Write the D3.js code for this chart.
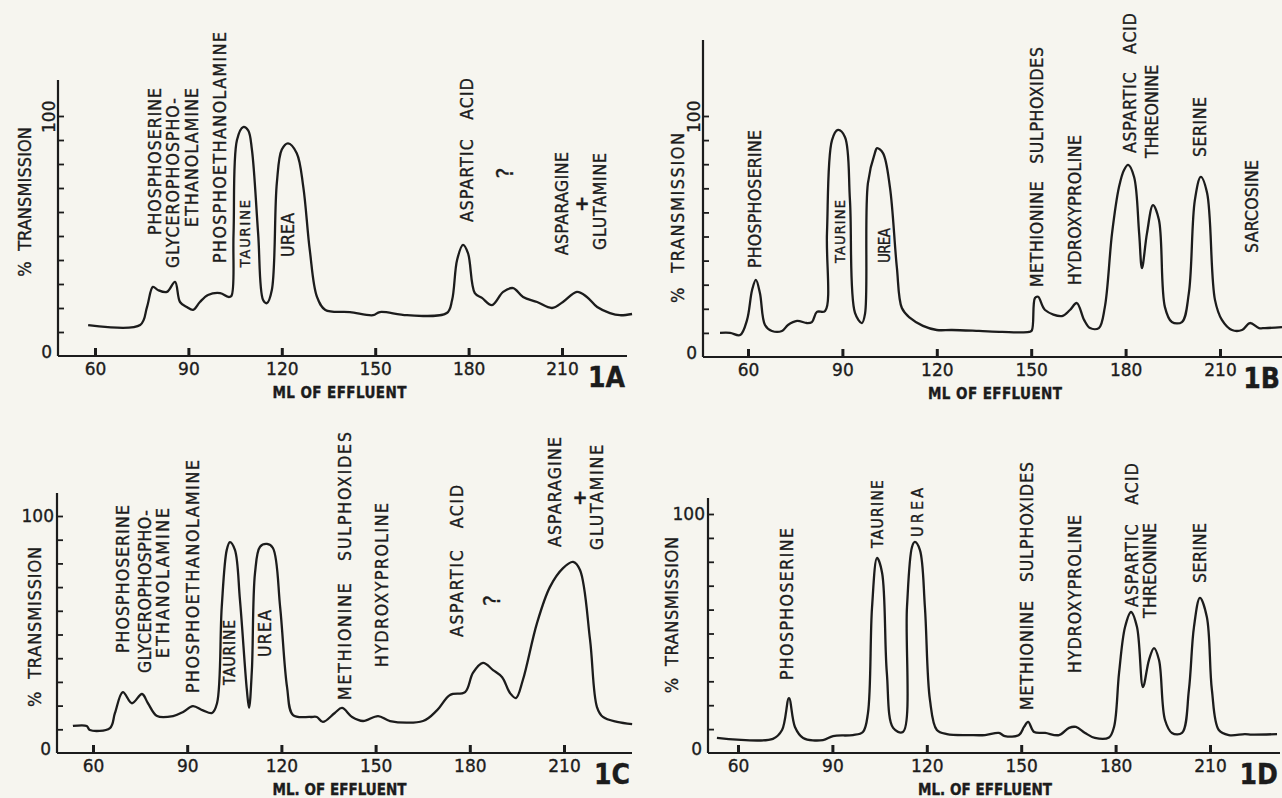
<!DOCTYPE html>
<html lang="en">
<head>
<meta charset="UTF-8">
<title>Chromatograms 1A-1D</title>
<script src="https://cdn.jsdelivr.net/npm/d3@7/dist/d3.min.js"></script>
<style>
  * { margin: 0; padding: 0; }
  body { background: #f6f5ef; }
  svg { display: block; }
  text { font-family: 'DejaVu Sans Condensed', 'DejaVu Sans', sans-serif; fill: #1c1c1c; stroke: #1c1c1c; stroke-width: 0.35px; }
  .num { font-family: 'DejaVu Sans', sans-serif; }
</style>
</head>
<body>
<svg width="1282" height="798"></svg>
<script>
// ---- data: ml of effluent vs % transmission ----
const xTicks = [60, 90, 120, 150, 180, 210];
const yTicks = [0, 10, 20, 30, 40, 50, 60, 70, 80, 90, 100];

const mlA = [57.8, 74.5, 76.7, 78.6, 80.2, 83.1, 85.7, 87.3, 89.5, 91.5, 93.7, 96.3, 100.2, 102.8, 103.8, 104.5, 105.6, 107.6, 109.2, 110.4, 112.4, 114.0, 115.2, 116.8, 118.4, 120.0, 122.0, 124.8, 126.9, 129.0, 131.3, 134.0, 141.9, 149.3, 151.5, 160.2, 173.0, 174.7, 176.3, 178.2, 179.8, 182.0, 184.3, 187.5, 191.1, 194.3, 197.5, 202.0, 206.8, 210.3, 214.8, 218.0, 221.3, 225.4, 228.6, 232.5];
const pctA = [12.9, 12.9, 20.4, 28.8, 27.5, 26.7, 30.9, 22.5, 20.4, 19.2, 22.5, 25.4, 26.2, 24.6, 25, 51, 90, 95.4, 94, 86, 51, 23.3, 22, 27.5, 72, 86, 88.6, 84.5, 70.5, 44, 24.6, 19.2, 18.3, 17, 18.3, 17, 17.9, 23.3, 40, 46.3, 42.9, 26.2, 24.2, 21.2, 26.7, 28.3, 24.6, 22.5, 20, 22.5, 26.7, 24.6, 20.4, 17.9, 17, 17.5];

const mlB = [51.1, 54.3, 57.5, 59.7, 61.3, 62.5, 63.8, 65.4, 67.6, 70.8, 72.7, 75.6, 78.7, 80.3, 81.9, 84.5, 85.1, 86.7, 88.6, 90.8, 92.4, 94.0, 96.2, 97.2, 98.1, 100.4, 101.0, 102.9, 105.1, 107.3, 108.9, 111.5, 115.6, 120.0, 124.8, 133.4, 140.7, 149.3, 150.2, 151.2, 152.2, 154.4, 159.8, 162.3, 164.5, 166.8, 168.7, 171.5, 173.4, 175.7, 177.9, 179.5, 180.8, 182.7, 184.3, 185.2, 186.8, 188.7, 190.6, 192.5, 194.7, 197.9, 200.1, 202.0, 203.9, 205.9, 208.4, 210.6, 213.8, 217.0, 219.5, 222.4, 224.3, 229.7];
const pctB = [10, 10, 9.1, 15.4, 27.8, 32, 26.5, 13.3, 10.8, 10.8, 13.3, 15, 14.1, 14.5, 18.7, 19.1, 51.4, 90, 94.2, 91.3, 65, 18.3, 14.1, 18, 72, 85, 86.7, 84.6, 70.5, 37.3, 20.3, 16.2, 12.9, 11.2, 11.2, 10.8, 10.4, 10.4, 11, 24.5, 25, 19.5, 17, 19.5, 22.4, 15.4, 12, 12, 20.7, 51.4, 70.5, 77.6, 79.7, 74.7, 51.4, 36.9, 51.4, 63, 56.8, 20.7, 14.5, 14.5, 26.5, 65, 74.7, 68, 23.7, 15.4, 11.2, 11.2, 14.1, 12, 12, 12.4];

const mlC = [53.6, 58, 59, 65.4, 67, 69.5, 72.4, 75.6, 77.5, 80.4, 85.5, 88.7, 91.8, 95, 97.9, 99.5, 101, 102.6, 103.6, 105.2, 106.8, 109, 109.7, 110.6, 111.6, 113.2, 115.4, 117.3, 119.6, 121.8, 123.7, 129.1, 131.3, 133.2, 137, 139.3, 142.5, 146, 150.8, 154.6, 165.1, 169.6, 173.7, 178.5, 181, 184.2, 187.4, 190.3, 192.8, 194.7, 196.9, 201.4, 205.5, 209.7, 212.9, 215.1, 218.3, 220.5, 222.4, 226.9, 231.7];
const pctC = [11.4, 11.4, 9.7, 10.5, 16.9, 25.7, 21, 24.9, 21, 15.6, 15.6, 17.3, 19.8, 18, 16.9, 21, 61.6, 85.7, 89, 85.7, 64.6, 26.6, 19, 35, 76, 87, 88.2, 86.5, 61.6, 27.8, 16, 15.2, 15.2, 13.1, 16.9, 19, 15.2, 13.5, 15.6, 13.5, 13.5, 18.1, 24.5, 25.7, 33.8, 38, 35, 32, 25.3, 23.2, 30.8, 54.8, 70, 78, 80.6, 77.2, 47.7, 19.4, 15.2, 13.1, 12.2];

const mlD = [53.3, 71.1, 74, 76.2, 78.1, 80.7, 87, 90.2, 96.5, 99.7, 101.3, 102.6, 104.2, 105.8, 107.3, 109.3, 112.4, 113.7, 115.3, 116.2, 117.8, 119.4, 121, 123.2, 126.4, 133.7, 138.5, 142.9, 144.8, 149.3, 150.9, 152.2, 154.1, 157.6, 162, 165.2, 167.4, 170.3, 173.4, 177.9, 179.5, 181.1, 183, 184.9, 186.8, 188.7, 190.6, 192.2, 193.8, 195.7, 197.9, 201.1, 203.3, 204.9, 206.8, 209, 210.6, 212.8, 216, 221.1, 223.3, 231.3];
const pctD = [6.3, 5.9, 9.6, 23, 10.9, 6.3, 5.4, 7.1, 7.5, 8.8, 16.7, 61, 81.6, 75.3, 33.5, 10.5, 8.8, 61, 86.2, 88.3, 85, 61, 22.2, 9.6, 7.9, 7.5, 7.5, 8.4, 7.1, 7.5, 10.9, 13, 8.8, 8.4, 7.5, 10.5, 10.9, 8.4, 6.3, 6.5, 10.9, 33.5, 52.7, 59, 52.7, 27.6, 38.9, 43.9, 38.9, 13.8, 8.4, 8.4, 26.4, 52.7, 64.9, 56.9, 26.4, 9.6, 7.5, 7.9, 7.7, 7.9];

// peak names: column at ml, text running from pct lo up to pct hi
const SP = '\u00a0\u00a0\u00a0';
const peaksA = [
  { t: 'PHOSPHOSERINE', ml: 79.3, lo: 50.4, hi: 111.7 },
  { t: 'GLYCEROPHOSPHO-', ml: 85.1, lo: 36.7, hi: 107.5 },
  { t: 'ETHANOLAMINE', ml: 91.2, lo: 53.8, hi: 111.7 },
  { t: 'PHOSPHOETHANOLAMINE', ml: 100.2, lo: 38.8, hi: 135 },
  { t: 'TAURINE', ml: 108.2, lo: 37, hi: 65, fs: 14.5 },
  { t: 'UREA', ml: 122, lo: 41.3, hi: 59.6 },
  { t: 'ASPARTIC' + SP + 'ACID', ml: 179.5, lo: 55.8, hi: 115.8 },
  { t: '?', ml: 191.7, lo: 74, hi: 84, fs: 23 },
  { t: 'ASPARAGINE', ml: 210, lo: 42, hi: 85 },
  { t: '+', ml: 216.4, lo: 61, hi: 67, flat: true },
  { t: 'GLUTAMINE', ml: 222.2, lo: 44.2, hi: 84.6 }
];
const peaksB = [
  { t: 'PHOSPHOSERINE', ml: 62.2, lo: 36.9, hi: 94.2 },
  { t: 'TAURINE', ml: 89.2, lo: 39, hi: 65.1, fs: 14.5 },
  { t: 'UREA', ml: 103.5, lo: 39, hi: 53.5, fs: 15 },
  { t: 'METHIONINE' + SP + 'SULPHOXIDES', ml: 151.8, lo: 29, hi: 128.6 },
  { t: 'HYDROXYPROLINE', ml: 163.9, lo: 29.9, hi: 92.1 },
  { t: 'ASPARTIC' + SP + 'ACID', ml: 181.4, lo: 84.6, hi: 142.7 },
  { t: 'THREONINE', ml: 188.4, lo: 82.6, hi: 121.2 },
  { t: 'SERINE', ml: 203.6, lo: 83, hi: 107.9 },
  { t: 'SARCOSINE', ml: 220.2, lo: 43.2, hi: 81.7 }
];
const peaksC = [
  { t: 'PHOSPHOSERINE', ml: 69.6, lo: 42.2, hi: 104.6 },
  { t: 'GLYCEROPHOSPHO-', ml: 76.6, lo: 33.8, hi: 102.5 },
  { t: 'ETHANOLAMINE', ml: 82.3, lo: 40.1, hi: 103.4 },
  { t: 'PHOSPHOETHANOLAMINE', ml: 91.8, lo: 25.3, hi: 123.6 },
  { t: 'TAURINE', ml: 103.6, lo: 28.7, hi: 56.1, fs: 15.5 },
  { t: 'UREA', ml: 114.8, lo: 40.5, hi: 60.3 },
  { t: 'METHIONINE' + SP + 'SULPHOXIDES', ml: 140.3, lo: 22.4, hi: 135.4 },
  { t: 'HYDROXYPROLINE', ml: 152, lo: 36.3, hi: 105.5 },
  { t: 'ASPARTIC' + SP + 'ACID', ml: 175.9, lo: 48.9, hi: 113.1 },
  { t: '?', ml: 187.1, lo: 62, hi: 72, fs: 23 },
  { t: 'ASPARAGINE', ml: 207.1, lo: 86.9, hi: 133.3 },
  { t: '+', ml: 215.1, lo: 105, hi: 111, flat: true },
  { t: 'GLUTAMINE', ml: 220.5, lo: 85.7, hi: 130 }
];
const peaksD = [
  { t: 'PHOSPHOSERINE', ml: 75.6, lo: 30.5, hi: 94.1 },
  { t: 'TAURINE', ml: 104.2, lo: 85.8, hi: 114.2, fs: 15.5 },
  { t: 'UREA', ml: 116.9, lo: 90.4, hi: 110.9, fs: 16 },
  { t: 'METHIONINE' + SP + 'SULPHOXIDES', ml: 151.8, lo: 18, hi: 121.8 },
  { t: 'HYDROXYPROLINE', ml: 167.1, lo: 33.5, hi: 99.6 },
  { t: 'ASPARTIC' + SP + 'ACID', ml: 185.2, lo: 61.1, hi: 121.3 },
  { t: 'THREONINE', ml: 190.9, lo: 56.5, hi: 96.2 },
  { t: 'SERINE', ml: 206.8, lo: 71.1, hi: 96.2 }
];

// ---- layout of the four panels (pixel frame of each plate) ----
const panels = [
  { tag: '1A', ml: mlA, pct: pctA, peaks: peaksA, x60: 95, x210: 562, y0: 356, y100: 116, left: 58, right: 627, topPct: 115,
    title: { dx: -33, lo: 33, hi: 95.4 }, big100: true, xlab: 'ML OF EFFLUENT' },
  { tag: '1B', ml: mlB, pct: pctB, peaks: peaksB, x60: 748, x210: 1220, y0: 357, y100: 116, left: 703, right: 1282, topPct: 131.5,
    title: { dx: -25, lo: 22.4, hi: 93 }, big100: true, xlab: 'ML OF EFFLUENT' },
  { tag: '1C', ml: mlC, pct: pctC, peaks: peaksC, x60: 93, x210: 564, y0: 753, y100: 516, left: 57, right: 632, topPct: 109.7,
    title: { dx: -22, lo: 19.4, hi: 87 }, big100: false, xlab: 'ML. OF EFFLUENT' },
  { tag: '1D', ml: mlD, pct: pctD, peaks: peaksD, x60: 738, x210: 1210, y0: 753, y100: 514, left: 708, right: 1280, topPct: 106.7,
    title: { dx: -36, lo: 25, hi: 90.4 }, big100: false, xlab: 'ML. OF EFFLUENT' }
];

const INK = '#1c1c1c';
const svg = d3.select('svg');

// vertical lettering: reads bottom to top, centred on column x
function vText(g, str, x, yBottom, yTop, size, weight) {
  const t = g.append('text')
    .attr('transform', `translate(${x},${yBottom}) rotate(-90)`)
    .attr('dy', '0.36em')
    .attr('font-size', size)
    .attr('font-weight', weight || 'normal')
    .text(str);
  if (yTop !== null) t.attr('textLength', yBottom - yTop).attr('lengthAdjust', 'spacing');
  return t;
}

for (const p of panels) {
  const g = svg.append('g');
  const x = d3.scaleLinear().domain([60, 210]).range([p.x60, p.x210]);
  const y = d3.scaleLinear().domain([0, 100]).range([p.y0, p.y100]);

  // x axis
  g.append('line')
    .attr('x1', p.left).attr('x2', p.right)
    .attr('y1', y(0)).attr('y2', y(0))
    .attr('stroke', INK).attr('stroke-width', 2.2);
  const xa = g.append('g').attr('transform', `translate(0,${y(0)})`)
    .call(d3.axisBottom(x).tickValues(xTicks).tickSizeInner(-8).tickSizeOuter(0).tickPadding(7));
  xa.select('.domain').remove();
  xa.selectAll('.tick line').attr('stroke', INK).attr('stroke-width', 3).attr('y2', -8).attr('y1', 1);
  xa.selectAll('.tick text')
    .attr('class', 'num').attr('font-size', 17).attr('font-family', null).attr('fill', INK);

  // y axis
  g.append('line')
    .attr('x1', p.left).attr('x2', p.left)
    .attr('y1', y(0)).attr('y2', y(p.topPct))
    .attr('stroke', INK).attr('stroke-width', 2.2);
  const ya = g.append('g').attr('transform', `translate(${p.left},0)`)
    .call(d3.axisRight(y).tickValues(yTicks.slice(1)).tickSize(6).tickFormat(''));
  ya.select('.domain').remove();
  ya.selectAll('.tick line').attr('stroke', INK).attr('stroke-width', 1.8);

  // 0 and 100 marks
  g.append('text')
    .attr('class', 'num')
    .attr('x', p.left - 6).attr('y', y(0) - 4).attr('dy', '0.36em')
    .attr('text-anchor', 'end').attr('font-size', 17).text('0');
  if (p.big100) {
    vText(g, '100', p.left - 9, y(100) + 17, null, 17).attr('class', 'num');
  } else {
    g.append('text')
      .attr('class', 'num')
      .attr('x', p.left - 3).attr('y', y(100)).attr('dy', '0.36em')
      .attr('text-anchor', 'end').attr('font-size', 17).text('100');
  }

  // axis titles
  vText(g, '%\u00a0\u00a0TRANSMISSION', p.left + p.title.dx, y(p.title.lo), y(p.title.hi), 18);
  g.append('text')
    .attr('x', x(138.5)).attr('y', y(0) + 37).attr('dy', '0.36em')
    .attr('text-anchor', 'middle').attr('font-size', 15).attr('font-weight', 'bold')
    .attr('textLength', 134).attr('lengthAdjust', 'spacing')
    .text(p.xlab);
  g.append('text')
    .attr('x', p.right - 2).attr('y', y(0) + 31)
    .attr('text-anchor', 'end').attr('font-size', 28).attr('font-weight', 'bold')
    .text(p.tag);

  // trace
  const pts = p.ml.map((m, i) => [m, p.pct[i]]);
  g.append('path')
    .datum(pts)
    .attr('fill', 'none').attr('stroke', INK).attr('stroke-width', 2.3)
    .attr('stroke-linejoin', 'round')
    .attr('d', d3.line().x(d => x(d[0])).y(d => y(d[1])).curve(d3.curveCatmullRom.alpha(0.5)));

  // peak names
  for (const k of p.peaks) {
    if (k.flat) {
      g.append('text')
        .attr('x', x(k.ml)).attr('y', y((k.lo + k.hi) / 2)).attr('dy', '0.36em')
        .attr('text-anchor', 'middle').attr('font-size', 20).attr('font-weight', 'bold')
        .text(k.t);
    } else {
      vText(g, k.t, x(k.ml), y(k.lo), k.t === '?' ? null : y(k.hi), k.fs || 17.5);
    }
  }
}
</script>
</body>
</html>
